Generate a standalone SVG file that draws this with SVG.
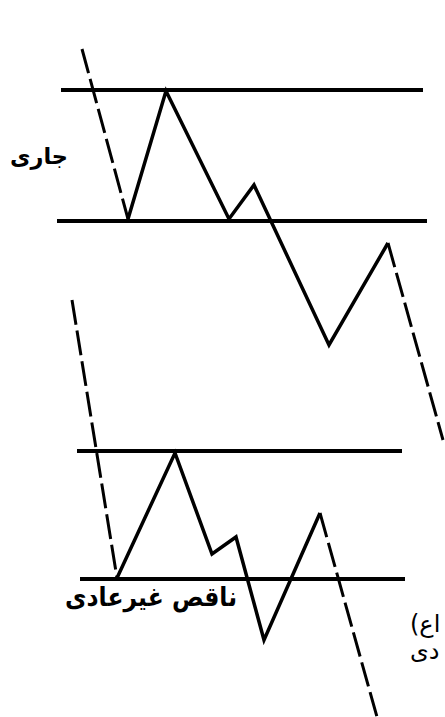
<svg xmlns="http://www.w3.org/2000/svg" width="445" height="717" viewBox="0 0 445 717">
<style>
.bg{fill:#fff}
.hl{stroke:#000;stroke-width:4;fill:none}
.zz{stroke:#000;stroke-width:3.5;fill:none;stroke-linejoin:miter}
.ds{stroke:#000;stroke-width:3;fill:none;stroke-dasharray:25 6}
.lb{font-family:"DejaVu Sans",sans-serif;font-weight:bold;fill:#000}
.lr{font-family:"DejaVu Sans",sans-serif;fill:#000}
</style>
<rect class="bg" x="0" y="0" width="445" height="717"/>
<g id="connectors">
  <line class="hl" x1="61" y1="90" x2="423" y2="90"/>
  <line class="hl" x1="57" y1="221" x2="427" y2="221"/>
  <line class="ds" x1="82" y1="49" x2="128" y2="219"/>
  <polyline class="zz" points="128,219 166,91 229,219 254,185 329,345 388,243"/>
  <line class="ds" x1="388" y1="243" x2="443" y2="440"/>
  <line class="hl" x1="77" y1="451" x2="402" y2="451"/>
  <line class="hl" x1="80" y1="579" x2="405" y2="579"/>
  <line class="ds" x1="72" y1="300" x2="117" y2="578"/>
  <polyline class="zz" points="117,578 175,453 212,554 236,537 264,640 320,513"/>
  <line class="ds" x1="320" y1="513" x2="377" y2="717"/>
</g>
<g id="label-jari">
  <text class="lb" x="10" y="164" font-size="23" textLength="58" lengthAdjust="spacingAndGlyphs">جاری</text>
</g>
<g id="label-naghes">
  <text class="lb" x="65" y="606" font-size="26" textLength="172" lengthAdjust="spacingAndGlyphs">ناقص غیرعادی</text>
</g>
<g id="label-right">
  <text class="lr" x="410" y="632" font-size="24">اع)&#x200F;</text>
  <text class="lr" x="410" y="659" font-size="24">دی</text>
</g>
</svg>
